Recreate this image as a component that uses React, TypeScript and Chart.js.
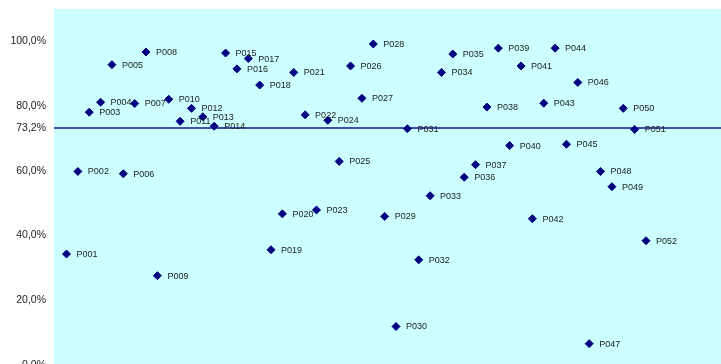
import { useEffect, useRef } from 'react';
import { Chart, registerables } from 'chart.js';

Chart.register(...registerables);

// Point names, in the order of their sequence number (x = 1, 2, 3, ...)
const pointNames = [
  'P001', 'P002', 'P003', 'P004', 'P005', 'P006', 'P007', 'P008', 'P009', 'P010',
  'P011', 'P012', 'P013', 'P014', 'P015', 'P016', 'P017', 'P018', 'P019', 'P020',
  'P021', 'P022', 'P023', 'P024', 'P025', 'P026', 'P027', 'P028', 'P029', 'P030',
  'P031', 'P032', 'P033', 'P034', 'P035', 'P036', 'P037', 'P038', 'P039', 'P040',
  'P041', 'P042', 'P043', 'P044', 'P045', 'P046', 'P047', 'P048', 'P049', 'P050',
  'P051', 'P052',
];

// Share per point (fraction, 1 = 100 %)
const shares = [
  0.343, 0.598, 0.781, 0.812, 0.928, 0.591, 0.808, 0.967, 0.276, 0.821,
  0.753, 0.793, 0.767, 0.738, 0.964, 0.915, 0.947, 0.865, 0.356, 0.467,
  0.904, 0.773, 0.479, 0.756, 0.629, 0.924, 0.824, 0.992, 0.459, 0.119,
  0.730, 0.325, 0.523, 0.904, 0.961, 0.580, 0.619, 0.797, 0.979, 0.678,
  0.924, 0.452, 0.809, 0.979, 0.682, 0.873, 0.066, 0.598, 0.551, 0.793,
  0.728, 0.384,
];

// Reference level drawn as a horizontal line
const referenceLevel = 0.732;

// Value-axis tick values (the reference level gets its own label)
const yTickValues = [0, 0.2, 0.4, 0.6, referenceLevel, 0.8, 1.0];

const X_MIN = -0.1;
const X_MAX = 58.6;
const Y_MIN = 0;
const Y_MAX = 1.1;

const FONT_FAMILY = '"Liberation Sans", Arial, Helvetica, sans-serif';
const MARK_COLOR = '#000080';

const formatPercent = (v: number) => (v * 100).toFixed(1).replace('.', ',') + '%';

const plotBackground = {
  id: 'plotBackground',
  beforeDraw(chart: any) {
    const { ctx, chartArea } = chart;
    ctx.save();
    ctx.fillStyle = 'rgb(204,255,255)';
    ctx.fillRect(chartArea.left, chartArea.top, chartArea.right - chartArea.left, chartArea.bottom - chartArea.top);
    ctx.restore();
  },
};

const pointNameLabels = {
  id: 'pointNameLabels',
  afterDatasetsDraw(chart: any) {
    const { ctx } = chart;
    const meta = chart.getDatasetMeta(0);
    ctx.save();
    ctx.font = `9px ${FONT_FAMILY}`;
    ctx.fillStyle = '#222222';
    ctx.textAlign = 'left';
    ctx.textBaseline = 'middle';
    meta.data.forEach((el: any, i: number) => {
      ctx.fillText(pointNames[i], el.x + 10, el.y + 0.5);
    });
    ctx.restore();
  },
};

export default function App() {
  const canvasRef = useRef<HTMLCanvasElement | null>(null);

  useEffect(() => {
    const canvas = canvasRef.current;
    if (!canvas) return;

    const chart = new Chart(canvas, {
      type: 'scatter',
      data: {
        datasets: [
          {
            type: 'scatter',
            label: 'Anteil',
            data: shares.map((v, i) => ({ x: i + 1, y: v })),
            pointStyle: 'rectRot',
            pointRadius: 4,
            pointBorderWidth: 1,
            backgroundColor: MARK_COLOR,
            borderColor: MARK_COLOR,
            order: 1,
          },
          {
            type: 'line',
            label: 'Referenz',
            data: [
              { x: X_MIN, y: referenceLevel },
              { x: X_MAX, y: referenceLevel },
            ],
            borderColor: '#14148a',
            borderWidth: 1.5,
            pointRadius: 0,
            fill: false,
            order: 2,
          },
        ],
      },
      options: {
        responsive: false,
        animation: false,
        layout: { autoPadding: false, padding: { top: 9, bottom: 15, left: 0, right: 0 } },
        plugins: {
          legend: { display: false },
          tooltip: { enabled: false },
        },
        scales: {
          x: {
            type: 'linear',
            display: false,
            min: X_MIN,
            max: X_MAX,
          },
          y: {
            type: 'linear',
            min: Y_MIN,
            max: Y_MAX,
            grid: { display: false, drawTicks: false },
            border: { display: false },
            afterBuildTicks(scale: any) {
              scale.ticks = yTickValues.map((value) => ({ value }));
            },
            afterFit(scale: any) {
              scale.width = 54;
              scale.paddingTop = 0;
              scale.paddingBottom = 0;
            },
            ticks: {
              padding: 8,
              color: '#222222',
              font: { family: FONT_FAMILY, size: 10.5 },
              callback: (value: any) => formatPercent(Number(value)),
            },
          },
        },
      },
      plugins: [plotBackground, pointNameLabels],
    });

    return () => chart.destroy();
  }, []);

  return (
    <div style={{ position: 'fixed', left: 0, top: 0, width: 721, height: 380, background: '#ffffff' }}>
      <canvas ref={canvasRef} width={721} height={380} />
    </div>
  );
}
